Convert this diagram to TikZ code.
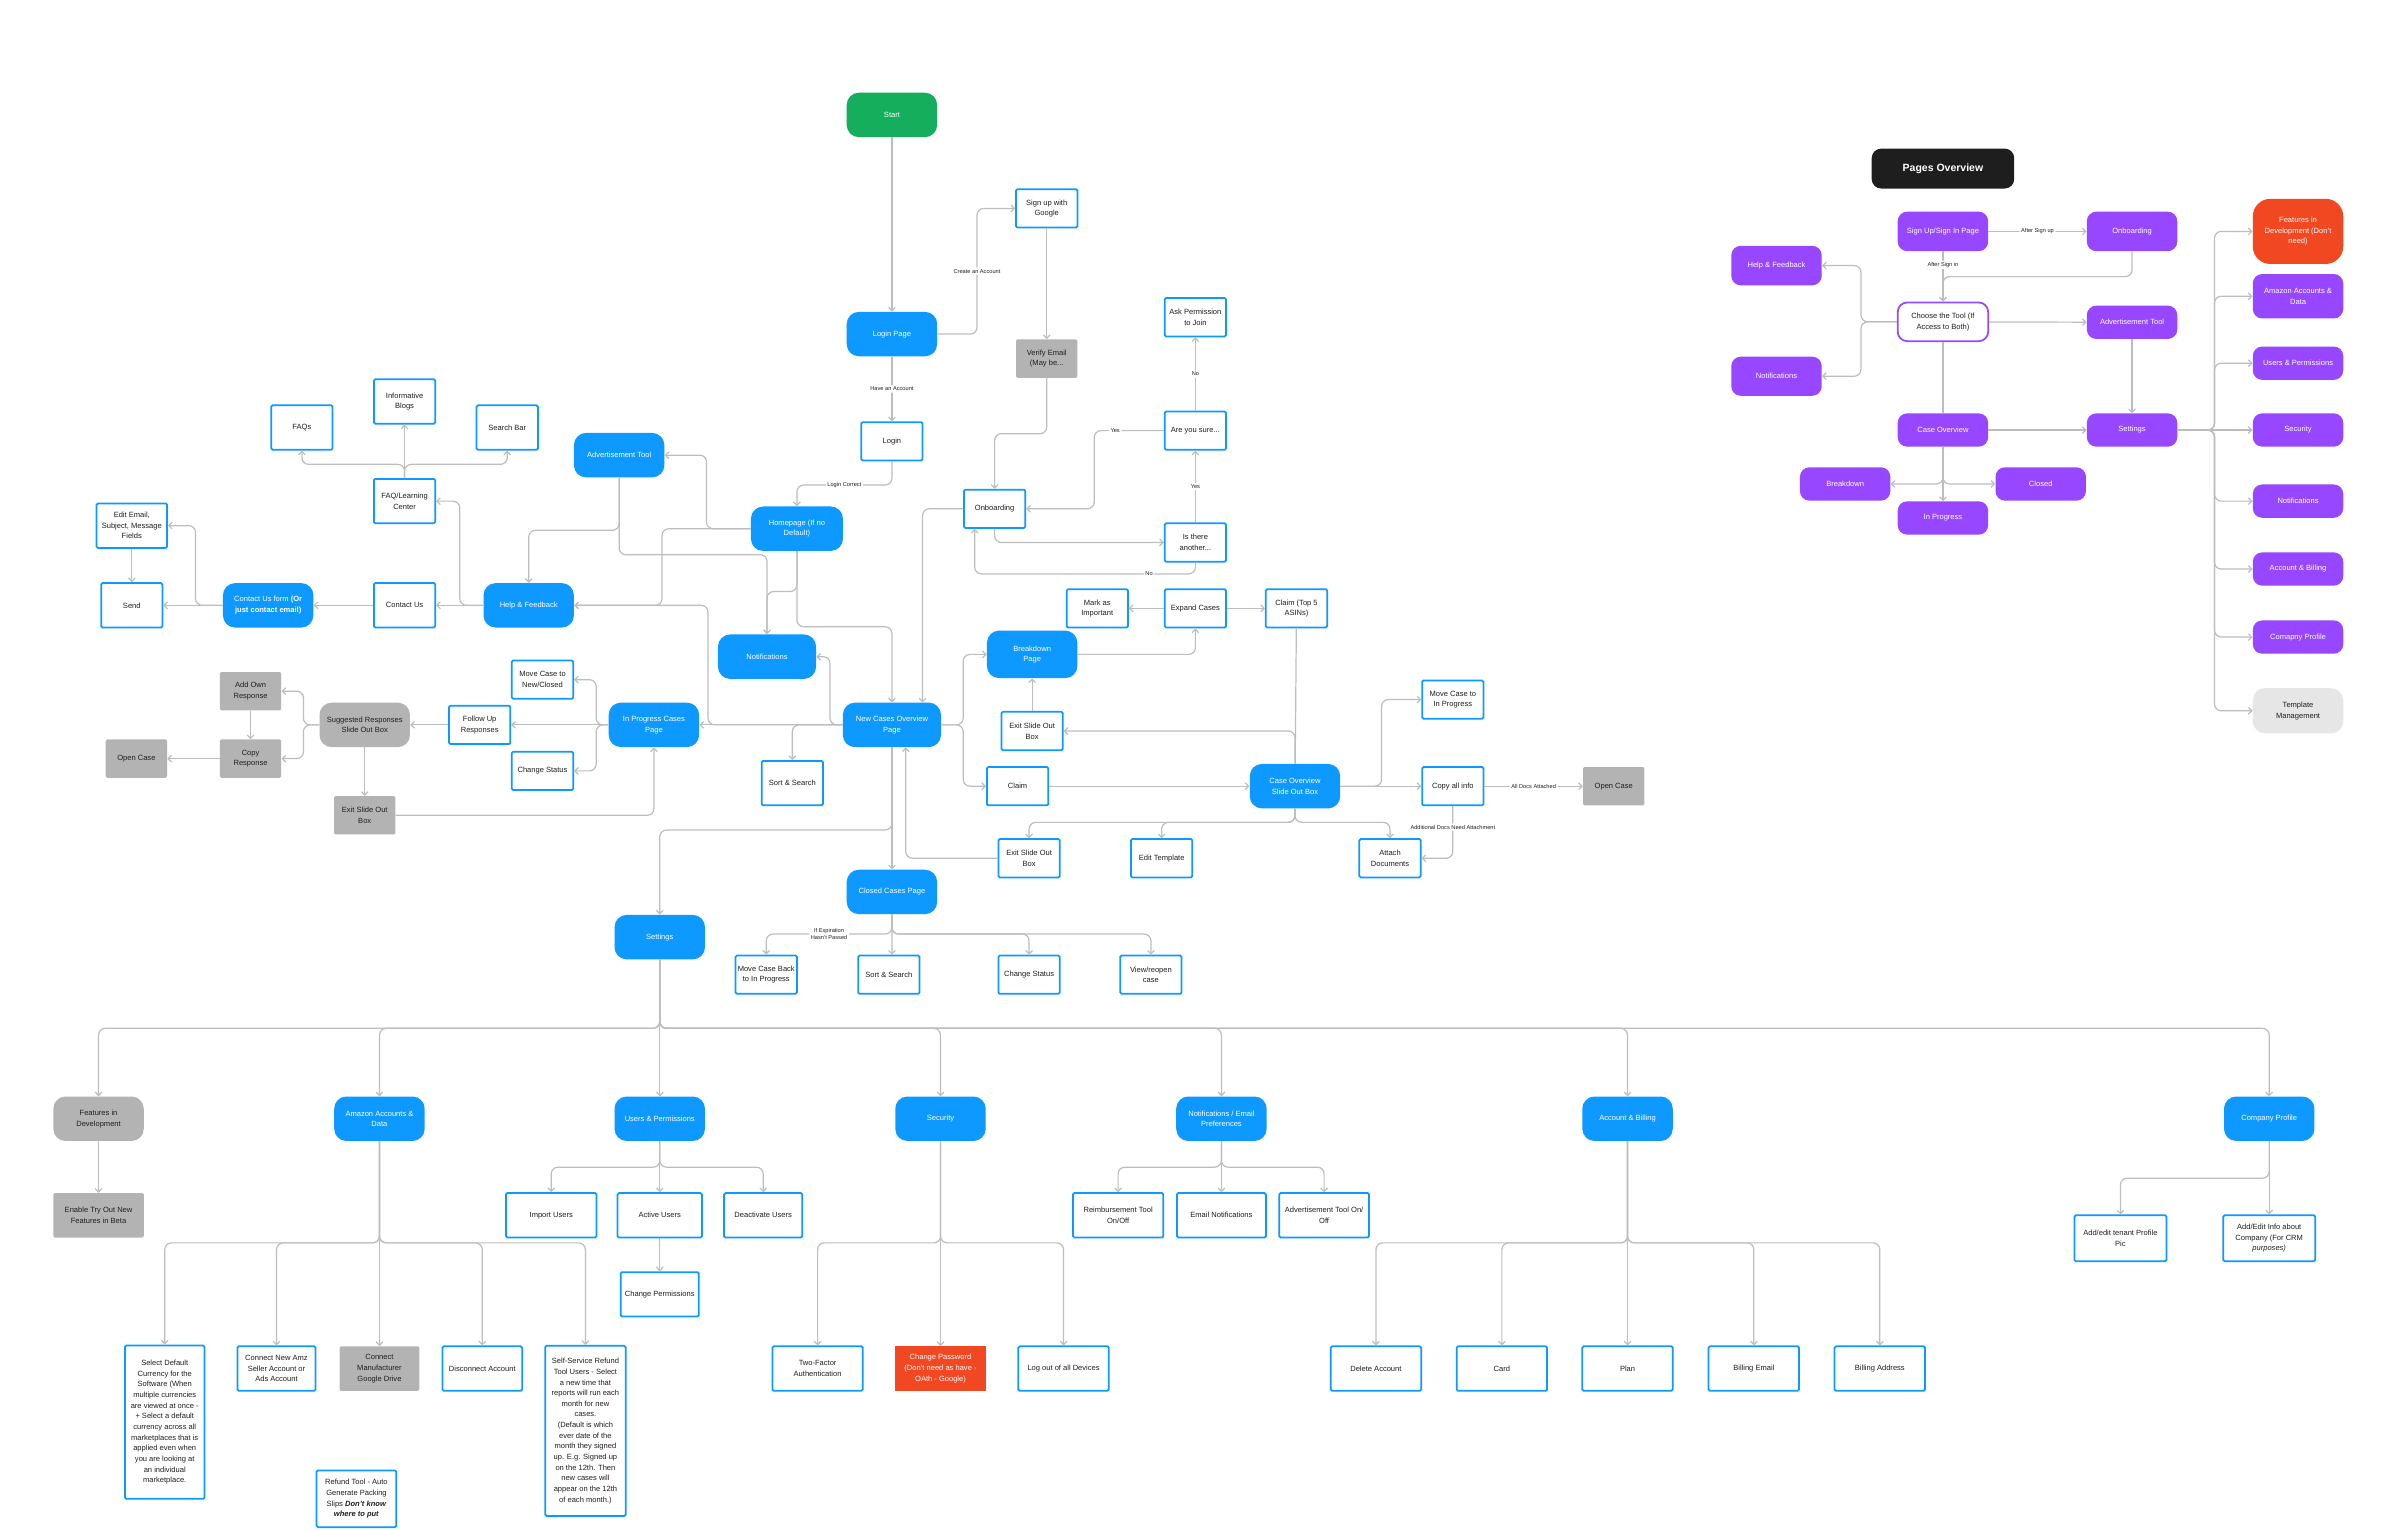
\documentclass[tikz,border=0pt]{standalone}
\usepackage{fontspec}
\setmainfont{Liberation Sans}
\usetikzlibrary{arrows.meta}
\definecolor{figblue}{HTML}{0D99FF}
\definecolor{figgreen}{HTML}{14AE5C}
\definecolor{figgray}{HTML}{B3B3B3}
\definecolor{figred}{HTML}{F24822}
\definecolor{figpurple}{HTML}{9747FF}
\definecolor{figblack}{HTML}{1E1E1E}
\definecolor{figlight}{HTML}{E6E6E6}
\definecolor{linegray}{HTML}{BDBDBD}
\definecolor{ink}{HTML}{1E1E1E}
\begin{document}
\begin{tikzpicture}[x=0.04cm, y=-0.04cm, >={Straight Barb[length=2.5pt, width=5pt]},
    every node/.style={font=\fontsize{5.6}{7.9}\selectfont, align=center, inner sep=1pt},
    page/.style={fill=figblue, text=white, rounded corners=9pt, minimum width=2.36cm, minimum height=1.16cm},
    box/.style={draw=figblue, line width=1.3pt, rounded corners=1pt, fill=white, text=ink, minimum width=1.6cm, minimum height=1cm},
    graybox/.style={fill=figgray, rounded corners=1pt, text=ink, minimum width=1.6cm, minimum height=1cm},
    grayend/.style={page, fill=figgray, text=ink},
    ovnode/.style={fill=figpurple, text=white, rounded corners=7pt, minimum width=2.36cm, minimum height=0.87cm},
    link/.style={draw=linegray, line width=0.9pt, rounded corners=5pt},
    tag/.style={fill=white, text=ink, inner sep=1.2pt, font=\fontsize{4.2}{5.2}\selectfont}
]

    \useasboundingbox (0,0) rectangle (1568,999);

    % 起点与登录
    \node[page, fill=figgreen] (start) at (582, 75) {Start};
    \node[page] (loginpage) at (582, 218) {Login Page};
    \node[box] (signup) at (683, 136) {Sign up with\\Google};
    \node[graybox] (verify) at (683, 234) {Verify Email\\(May be...};
    \node[box] (login) at (582, 288) {Login};
    \node[page, minimum width=2.4cm] (homepage) at (520, 345) {Homepage (If no\\Default)};
    \node[box] (onboard) at (649, 332) {Onboarding};
    \node[box] (ask) at (780, 207) {Ask Permission\\to Join};
    \node[box] (sure) at (780, 281) {Are you sure...};
    \node[box] (another) at (780, 354) {Is there\\another...};
    \node[box] (mark) at (716, 397) {Mark as\\Important};
    \node[box] (expand) at (780, 397) {Expand Cases};
    \node[box] (claimtop) at (846, 397) {Claim (Top 5\\ASINs)};

    \draw[link,->] (start) -- (loginpage);
    \draw[link,->] (loginpage.east) -- (637.5,218) -- node[tag]{Create an Account} (637.5,136) -- (signup.west);
    \draw[link,->] (loginpage) -- node[tag]{Have an Account} (login);
    \draw[link,->] (login.south) -- (582,316.5) -- node[tag]{Login Correct} (520,316.5) -- (homepage.north);
    \draw[link,->] (signup) -- (verify);
    \draw[link,->] (verify.south) -- (683,283) -- (649,283) -- (onboard.north);
    \draw[link,->] (sure.west) -- node[tag, pos=0.7]{Yes} (714,281) -- (714,332) -- (onboard.east);
    \draw[link,->] (onboard.south) -- (649,354) -- (another.west);
    \draw[link,->] (another) -- node[tag]{Yes} (sure);
    \draw[link,->] (sure) -- node[tag]{No} (ask);
    \draw[link,->] (another.south) -- (780,374.5) -- node[tag, pos=0.21]{No} (636,374.5) -- ([xshift=-0.52cm]onboard.south);
    \draw[link,->] (expand) -- (mark);
    \draw[link,->] (expand) -- (claimtop);

    % 帮助与反馈
    \node[page] (adtool) at (404, 297) {Advertisement Tool};
    \node[box, minimum height=1.16cm] (faqs) at (197, 279) {FAQs};
    \node[box, minimum height=1.16cm] (blogs) at (264, 262) {Informative\\Blogs};
    \node[box, minimum height=1.16cm] (search) at (331, 279) {Search Bar};
    \node[box, minimum height=1.16cm] (faqlc) at (264, 327) {FAQ/Learning\\Center};
    \node[box, minimum width=1.84cm, minimum height=1.16cm] (editmail) at (86, 343) {Edit Email,\\Subject, Message\\Fields};
    \node[box, minimum height=1.16cm] (send) at (86, 395) {Send};
    \node[page] (form) at (175, 395) {Contact Us form \textbf{(Or}\\\textbf{just contact email)}};
    \node[box, minimum height=1.16cm] (contact) at (264, 395) {Contact Us};
    \node[page] (help) at (345, 395) {Help \& Feedback};
    \node[page, minimum width=2.56cm] (notif) at (500.5, 428.5) {Notifications};

    \draw[link,->] (homepage.west) -- (461,345) -- (461,297) -- (adtool.east);
    \draw[link,->] (homepage.west) -- (432,345) -- (432,395) -- (help.east);
    \draw[link,->] (homepage.south) -- (520,386) -- (500.5,386) -- (notif.north);
    \draw[link,->] (adtool.south) -- (404,346) -- (345,346) -- (help.north);
    \draw[link,->] (adtool.south) -- (404,362) -- (500.5,362) -- (notif.north);
    \draw[link,->] (help) -- (contact);
    \draw[link,->] (help.west) -- (300,395) -- (300,327) -- (faqlc.east);
    \draw[link,->] (faqlc.north) -- (264,303) -- (197,303) -- (faqs.south);
    \draw[link,->] (faqlc) -- (blogs);
    \draw[link,->] (faqlc.north) -- (264,303) -- (331,303) -- (search.south);
    \draw[link,->] (contact) -- (form);
    \draw[link,->] (form) -- (send);
    \draw[link,->] (form.west) -- (127.6,395) -- (127.6,343) -- (editmail.east);
    \draw[link,->] (editmail) -- (send);

    % 案件页面
    \node[page, minimum width=2.56cm] (newcases) at (582, 473) {New Cases Overview\\Page};
    \node[page] (inprog) at (426.7, 473) {In Progress Cases\\Page};
    \node[box, minimum height=1.16cm] (sortup) at (517, 511) {Sort \& Search};
    \node[box] (movenc) at (354, 443.5) {Move Case to\\New/Closed};
    \node[box] (followup) at (313, 473) {Follow Up\\Responses};
    \node[box] (status) at (354, 503) {Change Status};
    \node[grayend] (suggest) at (238, 473) {Suggested Responses\\Slide Out Box};
    \node[graybox] (addown) at (163.5, 451) {Add Own\\Response};
    \node[graybox] (copyresp) at (163.5, 495) {Copy\\Response};
    \node[graybox] (openl) at (89, 495) {Open Case};
    \node[graybox] (exitgray) at (238, 532) {Exit Slide Out\\Box};

    \draw[link,->] (onboard.west) -- (602,332) -- ([xshift=0.8cm]newcases.north);
    \draw[link,->] (homepage.south) -- (520,409) -- (582,409) -- (newcases.north);
    \draw[link,->] (newcases) -- (inprog);
    \draw[link,->] (newcases.west) -- (541.6,473) -- (541.6,428.5) -- (notif.east);
    \draw[link,->] (newcases.west) -- (517,473) -- (sortup.north);
    \draw[link,->] (newcases.west) -- (462,473) -- (462,395) -- (help.east);
    \draw[link,->] (inprog) -- (followup);
    \draw[link,->] (inprog.west) -- (389,473) -- (389,443.5) -- (movenc.east);
    \draw[link,->] (inprog.west) -- (389,473) -- (389,503) -- (status.east);
    \draw[link,->] (followup) -- (suggest);
    \draw[link,->] (suggest.west) -- (198,473) -- (198,451) -- (addown.east);
    \draw[link,->] (suggest.west) -- (198,473) -- (198,495) -- (copyresp.east);
    \draw[link,->] (addown) -- (copyresp);
    \draw[link,->] (copyresp) -- (openl);
    \draw[link,->] (suggest) -- (exitgray);
    \draw[link,->] (exitgray.east) -| (inprog.south);

    % 案件详情
    \node[page, minimum height=1.24cm] (breakdown) at (673.5, 427) {Breakdown\\Page};
    \node[box] (exitup) at (673.5, 477) {Exit Slide Out\\Box};
    \node[box] (claim) at (664, 513) {Claim};
    \node[page] (caseov) at (845, 513) {Case Overview\\Slide Out Box};
    \node[box] (moveip) at (948, 456.5) {Move Case to\\In Progress};
    \node[box] (copyinfo) at (948, 513) {Copy all info};
    \node[graybox] (openr) at (1053, 513) {Open Case};
    \node[box] (exitlow) at (671.5, 560) {Exit Slide Out\\Box};
    \node[box] (edittpl) at (758, 560) {Edit Template};
    \node[box] (attach) at (907, 560) {Attach\\Documents};

    \draw[link,->] (newcases.east) -- (628.5,473) -- (628.5,427) -- (breakdown.west);
    \draw[link,->] (newcases.east) -- (628.5,473) -- (628.5,513) -- (claim.west);
    \draw[link,->] (breakdown.east) -| (expand.south);
    \draw[link,->] (exitup) -- (breakdown);
    \draw[link] (claimtop) -- (caseov);
    \draw[link,->] (caseov.north) |- (exitup.east);
    \draw[link,->] (claim) -- (caseov);
    \draw[link,->] (caseov) -- (copyinfo);
    \draw[link,->] (caseov.east) -- (901.5,513) -- (901.5,456.5) -- (moveip.west);
    \draw[link,->] (copyinfo) -- node[tag]{All Docs Attached} (openr);
    \draw[link,->] (copyinfo.south) -- node[tag, pos=0.4]{Additional Docs Need Attachment} (948,560) -- (attach.east);
    \draw[link,->] (caseov.south) -- (845,536.6) -- (671.5,536.6) -- (exitlow.north);
    \draw[link,->] (caseov.south) -- (845,536.6) -- (758,536.6) -- (edittpl.north);
    \draw[link,->] (caseov.south) -- (845,536.6) -- (907,536.6) -- (attach.north);
    \draw[link,->] (exitlow.west) -- (591,560) -- ([xshift=0.36cm]newcases.south);

    % 已关闭案件
    \node[page] (closed) at (582, 582) {Closed Cases Page};
    \node[page] (settings) at (430.5, 611.5) {Settings};
    \node[box] (moveback) at (500, 636) {Move Case Back\\to In Progress};
    \node[box] (sortlow) at (580, 636) {Sort \& Search};
    \node[box] (statuslow) at (671.5, 636) {Change Status};
    \node[box] (reopen) at (751, 636) {View/reopen\\case};

    \draw[link,->] (newcases) -- (closed);
    \draw[link,->] (newcases.south) -- (582,541.6) -- (430.5,541.6) -- (settings.north);
    \draw[link,->] (closed.south) -- (582,609.5) -- node[tag]{If Expiration\\Hasn't Passed} (500,609.5) -- (moveback.north);
    \draw[link,->] (closed.south) -- ([xshift=0.08cm]sortlow.north);
    \draw[link,->] (closed.south) -- (582,609.5) -- (671.5,609.5) -- (statuslow.north);
    \draw[link,->] (closed.south) -- (582,609.5) -- (751,609.5) -- (reopen.north);

    % 设置
    \node[grayend] (featdev) at (64.3, 730) {Features in\\Development};
    \node[graybox, minimum width=2.36cm, minimum height=1.16cm] (enable) at (64.3, 793) {Enable Try Out New\\Features in Beta};
    \node[page] (amazon) at (247.6, 730) {Amazon Accounts \&\\Data};
    \node[page] (users) at (430.5, 730) {Users \& Permissions};
    \node[page] (security) at (613.7, 730) {Security};
    \node[page] (notifmail) at (797, 730) {Notifications / Email\\Preferences};
    \node[page] (account) at (1062, 730) {Account \& Billing};
    \node[page] (company) at (1480.7, 730) {Company Profile};

    \draw[link,->] (settings.south) -- (430.5,671) -- (64.3,671) -- (featdev.north);
    \draw[link,->] (settings.south) -- (430.5,671) -- (247.6,671) -- (amazon.north);
    \draw[link,->] (settings) -- (users);
    \draw[link,->] (settings.south) -- (430.5,671) -- (613.7,671) -- (security.north);
    \draw[link,->] (settings.south) -- (430.5,671) -- (797,671) -- (notifmail.north);
    \draw[link,->] (settings.south) -- (430.5,671) -- (1062,671) -- (account.north);
    \draw[link,->] (settings.south) -- (430.5,671) -- (1480.7,671) -- (company.north);
    \draw[link,->] (featdev) -- (enable);

    % 亚马逊账户
    \node[box, minimum width=2.08cm, minimum height=4cm] (currency) at (107.5, 928) {Select Default\\Currency for the\\Software (When\\multiple currencies\\are viewed at once -\\+ Select a default\\currency across all\\marketplaces that is\\applied even when\\you are looking at\\an individual\\marketplace.};
    \node[box, minimum width=2.04cm, minimum height=1.16cm] (connectamz) at (180.4, 893) {Connect New Amz\\Seller Account or\\Ads Account};
    \node[graybox, minimum width=2.08cm, minimum height=1.16cm] (connectgd) at (247.6, 893) {Connect\\Manufacturer\\Google Drive};
    \node[box, minimum width=2.08cm, minimum height=1.16cm] (disconnect) at (314.7, 893) {Disconnect Account};
    \node[box, minimum width=2.1cm, minimum height=4.44cm] (selfservice) at (382, 933.7) {Self-Service Refund\\Tool Users - Select\\a new time that\\reports will run each\\month for new\\cases.\\(Default is which\\ever date of the\\month they signed\\up. E.g. Signed up\\on the 12th. Then\\new cases will\\appear on the 12th\\of each month.)};
    \node[box, minimum width=2.08cm, minimum height=1.48cm] (refund) at (232.6, 978) {Refund Tool - Auto\\Generate Packing\\Slips \textbf{\textit{Don't know}}\\\textbf{\textit{where to put}}};

    \draw[link,->] (amazon.south) -- (247.6,811) -- (107.5,811) -- (currency.north);
    \draw[link,->] (amazon.south) -- (247.6,811) -- (180.4,811) -- (connectamz.north);
    \draw[link,->] (amazon) -- (connectgd);
    \draw[link,->] (amazon.south) -- (247.6,811) -- (314.7,811) -- (disconnect.north);
    \draw[link,->] (amazon.south) -- (247.6,811) -- (382,811) -- (selfservice.north);

    % 用户与权限
    \node[box, minimum width=2.36cm, minimum height=1.16cm] (import) at (359.7, 793) {Import Users};
    \node[box, minimum width=2.2cm, minimum height=1.16cm] (active) at (430.5, 793) {Active Users};
    \node[box, minimum width=2.04cm, minimum height=1.16cm] (deact) at (498, 793) {Deactivate Users};
    \node[box, minimum width=2.04cm, minimum height=1.16cm] (changeperm) at (430.5, 844.6) {Change Permissions};

    \draw[link,->] (users.south) -- (430.5,761.6) -- (359.7,761.6) -- (import.north);
    \draw[link,->] (users) -- (active);
    \draw[link,->] (users.south) -- (430.5,761.6) -- (498,761.6) -- (deact.north);
    \draw[link,->] (active) -- (changeperm);

    % 安全
    \node[box, minimum width=2.36cm, minimum height=1.16cm] (twofactor) at (533.5, 893) {Two-Factor\\Authentication};
    \node[fill=figred, text=white, minimum width=2.36cm, minimum height=1.16cm] (changepw) at (613.7, 893) {Change Password\\(Don't need  as have -\\OAth - Google)};
    \node[box, minimum width=2.36cm, minimum height=1.16cm] (logout) at (694, 893) {Log out of all Devices};

    \draw[link,->] (security.south) -- (613.7,811) -- (533.5,811) -- (twofactor.north);
    \draw[link,->] (security) -- (changepw);
    \draw[link,->] (security.south) -- (613.7,811) -- (694,811) -- (logout.north);

    % 通知
    \node[box, minimum width=2.36cm, minimum height=1.16cm] (reimb) at (729.6, 793) {Reimbursement Tool\\On/Off};
    \node[box, minimum width=2.32cm, minimum height=1.16cm] (emailnotif) at (797, 793) {Email Notifications};
    \node[box, minimum width=2.34cm, minimum height=1.16cm] (adonoff) at (864, 793) {Advertisement Tool On/\\Off};

    \draw[link,->] (notifmail.south) -- (797,761.6) -- (729.6,761.6) -- (reimb.north);
    \draw[link,->] (notifmail) -- (emailnotif);
    \draw[link,->] (notifmail.south) -- (797,761.6) -- (864,761.6) -- (adonoff.north);

    % 账户与账单
    \node[box, minimum width=2.36cm, minimum height=1.16cm] (delacc) at (897.8, 893) {Delete Account};
    \node[box, minimum width=2.36cm, minimum height=1.16cm] (card) at (980, 893) {Card};
    \node[box, minimum width=2.36cm, minimum height=1.16cm] (plan) at (1062, 893) {Plan};
    \node[box, minimum width=2.36cm, minimum height=1.16cm] (billemail) at (1144.4, 893) {Billing Email};
    \node[box, minimum width=2.36cm, minimum height=1.16cm] (billaddr) at (1226.6, 893) {Billing Address};

    \draw[link,->] (account.south) -- (1062,811) -- (897.8,811) -- (delacc.north);
    \draw[link,->] (account.south) -- (1062,811) -- (980,811) -- (card.north);
    \draw[link,->] (account) -- (plan);
    \draw[link,->] (account.south) -- (1062,811) -- (1144.4,811) -- (billemail.north);
    \draw[link,->] (account.south) -- (1062,811) -- (1226.6,811) -- (billaddr.north);

    % 公司资料
    \node[box, minimum width=2.4cm, minimum height=1.2cm] (tenant) at (1383.6, 808) {Add/edit tenant Profile\\Pic};
    \node[box, minimum width=2.4cm, minimum height=1.2cm] (cominfo) at (1480.7, 808) {Add/Edit Info about\\Company (For CRM\\\textit{purposes)}};

    \draw[link,->] (company.south) -- (1480.7,768.8) -- (1383.6,768.8) -- (tenant.north);
    \draw[link,->] (company) -- (cominfo);

    % 页面总览
    \node[fill=figblack, text=white, rounded corners=7pt, minimum width=3.72cm, minimum height=1.04cm,
          font=\fontsize{7.8}{9}\selectfont\bfseries] (povtitle) at (1267.8, 110) {Pages Overview};
    \node[ovnode, minimum height=1.03cm] (psign) at (1267.8, 151) {Sign Up/Sign In Page};
    \node[ovnode, minimum height=1.03cm] (ponboard) at (1391.2, 151) {Onboarding};
    \node[ovnode, minimum height=1.03cm] (phelp) at (1159.2, 173.3) {Help \& Feedback};
    \node[draw=figpurple, line width=1.3pt, fill=white, text=ink, rounded corners=7pt,
          minimum width=2.36cm, minimum height=1.01cm] (choose) at (1267.8, 210) {Choose the Tool (If\\Access to Both)};
    \node[ovnode] (padtool) at (1391.2, 210.3) {Advertisement Tool};
    \node[ovnode, minimum height=1.02cm] (pnotif) at (1159.2, 245.5) {Notifications};
    \node[ovnode] (pcase) at (1267.8, 280.6) {Case Overview};
    \node[ovnode] (psettings) at (1391.2, 280.6) {Settings};
    \node[ovnode] (pbreak) at (1204, 315.8) {Breakdown};
    \node[ovnode] (pclosed) at (1331.6, 315.8) {Closed};
    \node[ovnode] (pinprog) at (1267.8, 338) {In Progress};
    \node[ovnode, fill=figred, rounded corners=13pt, minimum height=1.7cm] (pfeat) at (1499.5, 151) {Features in\\Development (Don't\\need)};
    \node[ovnode, minimum height=1.16cm] (pamazon) at (1499.5, 193.3) {Amazon Accounts \&\\Data};
    \node[ovnode] (pusers) at (1499.5, 237) {Users \& Permissions};
    \node[ovnode] (psecurity) at (1499.5, 280.6) {Security};
    \node[ovnode] (pnotif2) at (1499.5, 327) {Notifications};
    \node[ovnode] (paccount) at (1499.5, 371.3) {Account \& Billing};
    \node[ovnode] (pcompany) at (1499.5, 415.7) {Comapny Profile};
    \node[ovnode, fill=figlight, text=ink, rounded corners=9pt, minimum height=1.18cm] (ptemplate) at (1499.5, 463.8) {Template\\Management};

    \draw[link,->] (psign) -- node[tag]{After Sign up} (ponboard);
    \draw[link,->] (psign) -- node[tag, pos=0.27]{After Sign in} (choose);
    \draw[link,->] (ponboard.south) -- (1391.2,180.5) -- (1267.8,180.5) -- (choose.north);
    \draw[link,->] (choose.west) -- (1214.3,210) -- (1214.3,173.3) -- (phelp.east);
    \draw[link,->] (choose.west) -- (1214.3,210) -- (1214.3,245.5) -- (pnotif.east);
    \draw[link,->] (choose) -- (padtool);
    \draw[link] (choose) -- (pcase);
    \draw[link,->] (padtool) -- (psettings);
    \draw[link,->] (pcase) -- (psettings);
    \draw[link,->] (pcase.south) |- (pbreak.east);
    \draw[link,->] (pcase.south) |- (pclosed.west);
    \draw[link,->] (pcase) -- (pinprog);
    \draw[link,->] (psettings.east) -- (1445,280.6) -- (1445,151) -- (pfeat.west);
    \draw[link,->] (psettings.east) -- (1445,280.6) -- (1445,193.3) -- (pamazon.west);
    \draw[link,->] (psettings.east) -- (1445,280.6) -- (1445,237) -- (pusers.west);
    \draw[link,->] (psettings) -- (psecurity);
    \draw[link,->] (psettings.east) -- (1445,280.6) -- (1445,327) -- (pnotif2.west);
    \draw[link,->] (psettings.east) -- (1445,280.6) -- (1445,371.3) -- (paccount.west);
    \draw[link,->] (psettings.east) -- (1445,280.6) -- (1445,415.7) -- (pcompany.west);
    \draw[link,->] (psettings.east) -- (1445,280.6) -- (1445,463.8) -- (ptemplate.west);

\end{tikzpicture}
\end{document}
